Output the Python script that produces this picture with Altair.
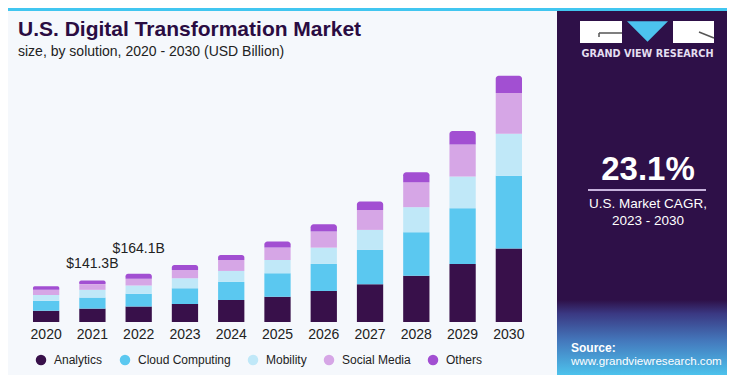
import altair as alt
import pandas as pd

# ---------------- data ----------------
years = ["2020", "2021", "2022", "2023", "2024", "2025", "2026", "2027", "2028", "2029", "2030"]
series = ["Analytics", "Cloud Computing", "Mobility", "Social Media", "Others"]
analytics = [38.4, 45.5, 52.4, 61.2, 74.8, 86.0, 105.4, 128.2, 157.4, 197.2, 249.2]
cloud = [34.0, 37.5, 43.5, 53.4, 61.2, 79.6, 91.8, 116.6, 147.6, 189.4, 247.2]
mobility = [19.4, 26.2, 28.4, 34.0, 37.4, 45.2, 55.4, 68.0, 85.0, 107.4, 142.8]
social = [18.0, 19.5, 22.8, 28.2, 37.4, 41.8, 54.4, 68.0, 85.0, 108.8, 138.4]
others = [11.2, 12.6, 17.0, 17.0, 17.0, 20.4, 25.2, 28.2, 34.0, 45.6, 58.8]
colors = ["#38104a", "#5bc8f0", "#c0e8f8", "#d6a6e6", "#a24fd2"]

callout_years = ["2021", "2022"]
callout_labels = ["$141.3B", "$164.1B"]

title_text = "U.S. Digital Transformation Market"
subtitle_text = "size, by solution, 2020 - 2030 (USD Billion)"
brand_text = "GRAND VIEW RESEARCH"
cagr_value = "23.1%"
cagr_line1 = "U.S. Market CAGR,"
cagr_line2 = "2023 - 2030"
source_label = "Source:"
source_url = "www.grandviewresearch.com"

# ---------------- tables ----------------
cols = [analytics, cloud, mobility, social, others]
rows = []
for si, (name, vals) in enumerate(zip(series, cols)):
    for y, v in zip(years, vals):
        rows.append({"year": y, "series": name, "value": v, "idx": si})
df = pd.DataFrame(rows)

totals = {y: sum(c[i] for c in cols) for i, y in enumerate(years)}
df_call = pd.DataFrame({
    "year": callout_years,
    "label": callout_labels,
    "total": [totals[y] for y in callout_years],
})

PANEL = "#2e1048"
FONT = "Liberation Sans"

xscale = alt.Scale(domain=years, paddingInner=0.432, paddingOuter=0.216)
yscale = alt.Scale(domain=[0, 900], nice=False)

xenc = alt.X("year:N", scale=xscale, sort=years,
             axis=alt.Axis(title=None, labelAngle=0, ticks=False, tickSize=0, domain=False,
                           grid=False, labelFontSize=14, labelColor="#222222",
                           labelFont=FONT, labelPadding=5))

colorenc = alt.Color("series:N", scale=alt.Scale(domain=series, range=colors),
                     legend=alt.Legend(title=None, orient="none", direction="horizontal",
                                       legendX=12, legendY=297, symbolType="circle",
                                       symbolSize=110, symbolStrokeWidth=0, symbolOpacity=1,
                                       labelFontSize=12, labelFont=FONT, labelColor="#222222",
                                       columnPadding=16, labelOffset=7, padding=0))

base = alt.Chart(df).transform_stack(
    stack="value", groupby=["year"], as_=["y0", "y1"],
    sort=[alt.SortField("idx", order="ascending")],
)

bars = base.transform_filter(alt.datum.series != "Others").mark_bar().encode(
    x=xenc,
    y=alt.Y("y0:Q", scale=yscale, axis=None),
    y2="y1:Q",
    color=colorenc,
)
tops = base.transform_filter(alt.datum.series == "Others").mark_bar(
    cornerRadiusTopLeft=3, cornerRadiusTopRight=3
).encode(
    x=xenc,
    y=alt.Y("y0:Q", scale=yscale, axis=None),
    y2="y1:Q",
    color=colorenc,
)

def callout(year, dy):
    return alt.Chart(df_call).transform_filter(alt.datum.year == year).mark_text(
        fontSize=14, font=FONT, color="#222222", baseline="alphabetic", dy=dy
    ).encode(x=alt.X("year:N", scale=xscale, sort=years),
             y=alt.Y("total:Q", scale=yscale), text="label:N")

one = pd.DataFrame({"k": [0]})

def box(x, x2, y, y2, color):
    return alt.Chart(one).mark_rect(color=color).encode(
        x=alt.value(x), x2=alt.value(x2), y=alt.value(y), y2=alt.value(y2))

def seg(x, x2, y, y2, color, w):
    return alt.Chart(one).mark_rule(color=color, strokeWidth=w).encode(
        x=alt.value(x), x2=alt.value(x2), y=alt.value(y), y2=alt.value(y2))

def txt(s, x, y, size, color, weight="normal", align="left", font=FONT):
    return alt.Chart(pd.DataFrame({"t": [s]})).mark_text(
        align=align, baseline="alphabetic", fontSize=size, fontWeight=weight,
        font=font, color=color
    ).encode(x=alt.value(x), y=alt.value(y), text="t:N")

panel = box(534, 704, -49, 318, PANEL)
grad = alt.Chart(one).mark_rect(color=alt.Gradient(
    gradient="linear", x1=0, x2=0, y1=0, y2=1,
    stops=[alt.GradientStop(offset=0, color=PANEL),
           alt.GradientStop(offset=0.18, color="#3a3882"),
           alt.GradientStop(offset=0.55, color="#4479bd"),
           alt.GradientStop(offset=1, color="#4dc2ec")])).encode(
    x=alt.value(534), x2=alt.value(704), y=alt.value(243), y2=alt.value(318))
topband = box(-15, 704, -49, -46, "#41c6f0")

logo_left = box(557, 599, -36, -14, "#ffffff")
logo_right = box(650, 691, -36, -14, "#ffffff")
logo_tri = alt.Chart(one).mark_point(
    shape="M-1,-0.5L1,-0.5L0,0.5Z", filled=True, opacity=1, color="#4cc3ee", size=1681
).encode(x=alt.value(624.5), y=alt.value(-25.5))
g1 = seg(576, 599, -24, -24, "#555555", 1.5)
g2 = seg(576, 576, -24, -20, "#555555", 1.5)
r1 = seg(676, 691, -25, -19, "#555555", 1.5)

cagr_rule = seg(565, 683, 133, 133, "#c7b3dc", 2)

layers = [
    bars, tops, callout("2021", -12), callout("2022", -21),
    panel, grad, topband,
    logo_left, logo_right, logo_tri, g1, g2, r1,
    txt(title_text, -5, -21, 21, "#2a0c42", weight="bold"),
    txt(subtitle_text, -5, -1, 14, "#222222"),
    txt(brand_text, 624.5, 0, 9.7, "#e4def0", weight="bold", align="center", font="DejaVu Sans"),
    txt(cagr_value, 625, 123, 33, "#ffffff", weight="bold", align="center"),
    cagr_rule,
    txt(cagr_line1, 625, 151, 13.5, "#ffffff", align="center"),
    txt(cagr_line2, 625, 168, 13.5, "#ffffff", align="center"),
    txt(source_label, 548, 295, 12, "#ffffff", weight="bold"),
    txt(source_url, 548, 308, 11.6, "#ffffff"),
]

chart = alt.layer(*layers).properties(
    width=509, height=265,
    autosize=alt.AutoSizeParams(type="none"),
    padding={"left": 15, "top": 49, "right": 195, "bottom": 53},
    background="#f5f8fc",
).configure_view(stroke=None)

chart.save("out.html", embed_options={"renderer": "svg", "actions": False})
